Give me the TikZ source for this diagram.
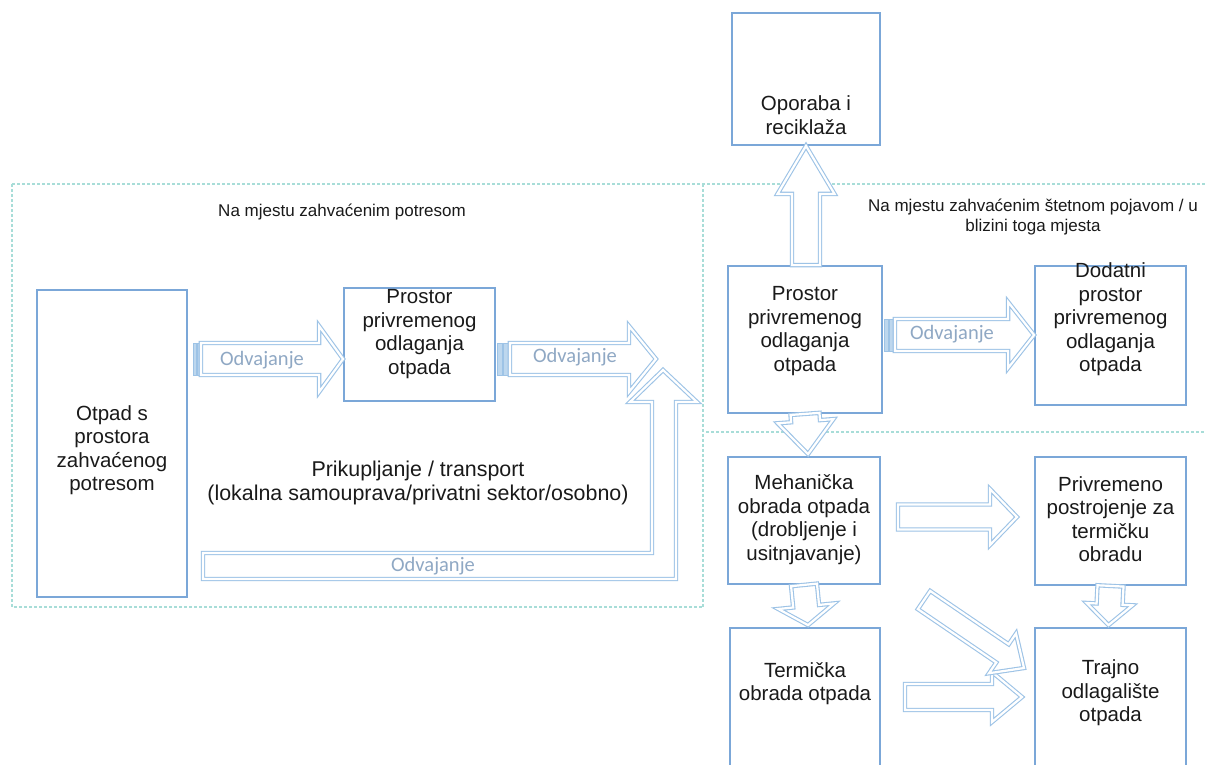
\documentclass[tikz,border=0pt]{standalone}
\usepackage{fontspec}
\setmainfont{Liberation Sans}
\newfontfamily\arrowfont{Carlito}
\usetikzlibrary{calc}

\definecolor{boxblue}{HTML}{7BA7D8}
\definecolor{arrblue}{HTML}{9DC3E6}
\definecolor{stripefill}{HTML}{BDD7EE}
\definecolor{zoneline}{HTML}{A8DDD8}
\definecolor{odvtext}{HTML}{8FA8C4}
\definecolor{ink}{HTML}{1A1A1A}

\tikzset{
  box/.style={draw=boxblue, line width=1.8pt, fill=white, inner sep=0pt},
  boxtext/.style={align=center, inner sep=0pt, text=ink,
    font=\fontsize{20.5}{23.5}\selectfont},
  zonetext/.style={align=center, inner sep=0pt, text=ink,
    font=\fontsize{17}{20}\selectfont},
  blockarr/.style={draw=arrblue, line width=1.1pt, double=white,
    double distance=2.2pt, fill=white, line join=miter},
  stripe/.style={draw=arrblue, line width=0.8pt, fill=stripefill},
  odv/.style={inner sep=0pt, text=odvtext, font=\arrowfont\fontsize{20.5}{22}\selectfont},
  zone/.style={draw=zoneline, line width=1.2pt, dash pattern=on 3pt off 2pt},
}

% block arrow from #1 to #2 (tip), half shaft width #3, half head width #4, head length #5
\newcommand\blockarrow[5]{%
  \path #1; \pgfgetlastxy{\bax}{\bay}%
  \path #2; \pgfgetlastxy{\bbx}{\bby}%
  \pgfmathsetmacro\baang{atan2(\bby-\bay,\bbx-\bax)}%
  \pgfmathsetmacro\balen{veclen(\bbx-\bax,\bby-\bay)}%
  \pgfmathsetmacro\babase{\balen-#5}%
  \begin{scope}[shift={(\bax,\bay)}, rotate=\baang]
    \draw[blockarr] (0,-#3) -- (\babase,-#3) -- (\babase,-#4) -- (\balen,0)
      -- (\babase,#4) -- (\babase,#3) -- (0,#3) -- cycle;
  \end{scope}}

\begin{document}
\begin{tikzpicture}[x=1pt, y=-1pt]
\clip (0,0) rectangle (1206,764);
\fill[white] (0,0) rectangle (1206,764);

% zones
\draw[zone] (12,184) -- (1206,184);
\draw[zone] (12,184) -- (12,607) -- (703,607);
\draw[zone] (703,184) -- (703,607);
\draw[zone] (706,432) -- (1206,432);
\node[zonetext] (z1) at (342,212) {Na mjestu zahvaćenim potresom};
\node[zonetext] (z2) at (1033,217) {Na mjestu zahvaćenim štetnom pojavom / u\\blizini toga mjesta};

% boxes
\node[box, minimum width=148, minimum height=132] (op) at (806,79) {};
\node[box, minimum width=150, minimum height=307] (otpad) at (112,443.5) {};
\node[box, minimum width=151, minimum height=113] (pr1) at (419.5,344.5) {};
\node[box, minimum width=154, minimum height=147] (pr2) at (805,339.5) {};
\node[box, minimum width=151, minimum height=139] (dod) at (1110.5,335.5) {};
\node[box, minimum width=152, minimum height=127] (meh) at (804,520.5) {};
\node[box, minimum width=151, minimum height=128] (priv) at (1110.5,521) {};
\node[box, minimum width=150, minimum height=162] (term) at (805,709) {};
\node[box, minimum width=151, minimum height=162] (traj) at (1110.5,709) {};

\node[boxtext] (op-t) at (806,115) {Oporaba i\\reciklaža};
\node[boxtext] (otpad-t) at (112,450) {Otpad s\\prostora\\zahvaćenog\\potresom};
\node[boxtext] (pr1-t) at (419.5,334) {Prostor\\privremenog\\odlaganja\\otpada};
\node[boxtext] (pr2-t) at (805,331) {Prostor\\privremenog\\odlaganja\\otpada};
\node[boxtext] (dod-t) at (1110.5,319.5) {Dodatni\\prostor\\privremenog\\odlaganja\\otpada};
\node[boxtext] (meh-t) at (804,519.5) {Mehanička\\obrada otpada\\(drobljenje i\\usitnjavanje)};
\node[boxtext] (priv-t) at (1110.5,519) {Privremeno\\postrojenje za\\termičku\\obradu};
\node[boxtext] (term-t) at (805,683.5) {Termička\\obrada otpada};
\node[boxtext] (traj-t) at (1110.5,693) {Trajno\\odlagalište\\otpada};

\node[boxtext, font=\fontsize{21.4}{24}\selectfont] (coll) at (418,483)
  {Prikupljanje / transport\\(lokalna samouprava/privatni sektor/osobno)};

% rows for the horizontal arrows
\coordinate (rowL) at (0,359);
\coordinate (rowR) at (0,335);

% striped arrow: waste area -> temporary storage
\draw[stripe] ($(otpad.east |- rowL)+(5,-16)$) rectangle +(3,32);
\draw[stripe] ($(otpad.east |- rowL)+(9,-16)$) rectangle +(3,32);
\blockarrow{($(otpad.east |- rowL)+(13,0)$)}{(pr1.west |- rowL)}{16}{33}{24}
\node[odv] (o1) at (262,360) {Odvajanje};

% bent arrow along the bottom
\draw[blockarr] (203,553) -- (652,553) -- (652,402) -- (630,402) -- (663,370)
  -- (697,402) -- (676,402) -- (676,579) -- (203,579) -- cycle;
\node[odv] (o3) at (433,566) {Odvajanje};

% striped arrow leaving the temporary storage
\draw[stripe] ($(pr1.east |- rowL)+(1,-16)$) rectangle +(5,32);
\draw[stripe] ($(pr1.east |- rowL)+(7,-16)$) rectangle +(6,32);
\coordinate (joinTip) at (656,359);
\blockarrow{($(pr1.east |- rowL)+(14,0)$)}{(joinTip)}{16}{33}{27}
\node[odv] (o2) at (575,357) {Odvajanje};

% right side
\draw[stripe] ($(pr2.east |- rowR)+(1,-16)$) rectangle +(4,32);
\draw[stripe] ($(pr2.east |- rowR)+(6,-16)$) rectangle +(5,32);
\blockarrow{($(pr2.east |- rowR)+(12,0)$)}{(dod.west |- rowR)}{16}{33}{26}
\node[odv] (o4) at (952,334) {Odvajanje};

\blockarrow{(pr2.north -| op.south)}{(op.south)}{14}{28.5}{48}
\blockarrow{(pr2.south)}{($(meh.north)+(4,-2)$)}{14.5}{28}{33}
\blockarrow{(898,517)}{(1017,517)}{12.5}{28}{27}
\blockarrow{(meh.south)}{($(term.north)+(3,-2)$)}{13}{28}{19}
\blockarrow{(905,697)}{(1022,697)}{13}{25}{30}
\blockarrow{(priv.south)}{($(traj.north)+(-2,-2)$)}{13}{23}{21}
\blockarrow{(924,600)}{(1024,668)}{11}{24}{26}
\end{tikzpicture}
\end{document}
